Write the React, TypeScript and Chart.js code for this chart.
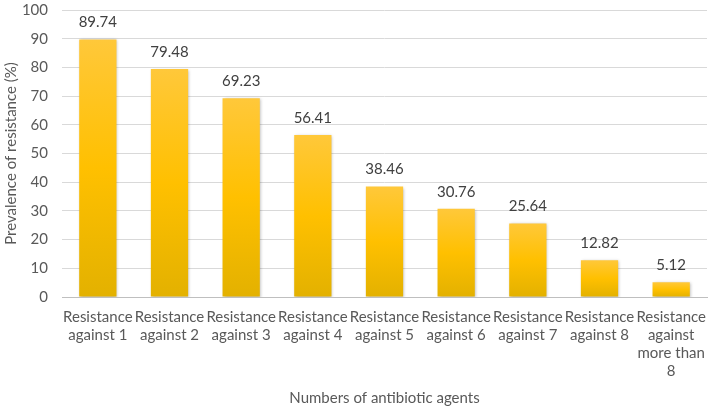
import React, { useEffect, useRef } from "react";
import { Chart, registerables } from "chart.js";

Chart.register(...registerables);

const categories: (string | string[])[] = [
  ["Resistance", "against 1"],
  ["Resistance", "against 2"],
  ["Resistance", "against 3"],
  ["Resistance", "against 4"],
  ["Resistance", "against 5"],
  ["Resistance", "against 6"],
  ["Resistance", "against 7"],
  ["Resistance", "against 8"],
  ["Resistance", "against", "more than", "8"],
];
const values: number[] = [89.74, 79.48, 69.23, 56.41, 38.46, 30.76, 25.64, 12.82, 5.12];
const valueLabels: string[] = ["89.74", "79.48", "69.23", "56.41", "38.46", "30.76", "25.64", "12.82", "5.12"];
const yTitle = "Prevalence of resistance (%)";
const xTitle = "Numbers of antibiotic agents";

const FONT = "Lato, 'Open Sans', sans-serif";

const shadowPlugin = {
  id: "barShadow",
  beforeDatasetsDraw(chart: any) {
    const c = chart.ctx;
    c.save();
    c.shadowColor = "rgba(0,0,0,0.28)";
    c.shadowBlur = 3;
    c.shadowOffsetX = 1;
    c.shadowOffsetY = 1;
  },
  afterDatasetsDraw(chart: any) {
    chart.ctx.restore();
  },
};

const labelPlugin = {
  id: "valueLabels",
  afterDatasetsDraw(chart: any) {
    const c = chart.ctx;
    const meta = chart.getDatasetMeta(0);
    c.save();
    c.fillStyle = "#404040";
    c.font = `15px ${FONT}`;
    c.textAlign = "center";
    c.textBaseline = "middle";
    meta.data.forEach((bar: any, i: number) => {
      c.fillText(valueLabels[i], bar.x, bar.y - 17);
    });
    c.restore();
  },
};

export default function App() {
  const ref = useRef<HTMLCanvasElement>(null);
  useEffect(() => {
    document.body.style.margin = "0";
    const canvas = ref.current!;
    const chart = new Chart(canvas, {
      type: "bar",
      data: {
        labels: categories as any,
        datasets: [
          {
            data: values,
            backgroundColor: (ctx: any) => {
              const chartObj = ctx.chart;
              const y = chartObj.scales?.y;
              if (!y || ctx.dataIndex === undefined) return "#FFC000";
              const v = values[ctx.dataIndex];
              const top = y.getPixelForValue(v);
              const bottom = y.getPixelForValue(0);
              if (!isFinite(top) || !isFinite(bottom) || top === bottom) return "#FFC000";
              const g = chartObj.ctx.createLinearGradient(0, top, 0, bottom);
              g.addColorStop(0, "#FFC83A");
              g.addColorStop(0.5, "#FFC000");
              g.addColorStop(1, "#E3B100");
              return g;
            },
            borderWidth: 0,
            barPercentage: 0.52,
            categoryPercentage: 1,
          },
        ],
      },
      options: {
        animation: false,
        responsive: false,
        maintainAspectRatio: false,
        layout: { padding: { top: 10, right: 2, left: 2, bottom: 0 } },
        plugins: {
          legend: { display: false },
          tooltip: { enabled: false },
        },
        scales: {
          x: {
            grid: { display: false, drawTicks: false },
            border: { display: true, color: "#BFBFBF", width: 1 },
            ticks: {
              color: "#595959",
              font: { family: FONT, size: 15, lineHeight: 1.2 },
              maxRotation: 0,
              autoSkip: false,
              padding: 11,
            },
            title: {
              display: true,
              text: xTitle,
              color: "#595959",
              font: { family: FONT, size: 15, lineHeight: 1.2 },
              padding: { top: 0, bottom: 1 },
            },
            afterFit: (scale: any) => {
              scale.height = 111;
              scale.paddingLeft = 0;
              scale.paddingRight = 0;
            },
          },
          y: {
            min: 0,
            max: 100,
            ticks: {
              stepSize: 10,
              color: "#595959",
              font: { family: FONT, size: 15 },
              padding: 14,
            },
            grid: { color: "#D9D9D9", drawTicks: false },
            border: { display: false },
            title: {
              display: true,
              text: yTitle,
              color: "#595959",
              font: { family: FONT, size: 15, lineHeight: 1.2 },
              padding: { top: 0, bottom: 0 },
            },
            afterFit: (scale: any) => {
              scale.width = 60;
              scale.paddingTop = 0;
              scale.paddingBottom = 0;
            },
          },
        },
      },
      plugins: [shadowPlugin, labelPlugin],
    });
    return () => chart.destroy();
  }, []);
  return (
    <div style={{ position: "fixed", left: 0, top: 0, width: 709, height: 408 }}>
      <canvas ref={ref} width={709} height={408} style={{ width: 709, height: 408 }} />
    </div>
  );
}
